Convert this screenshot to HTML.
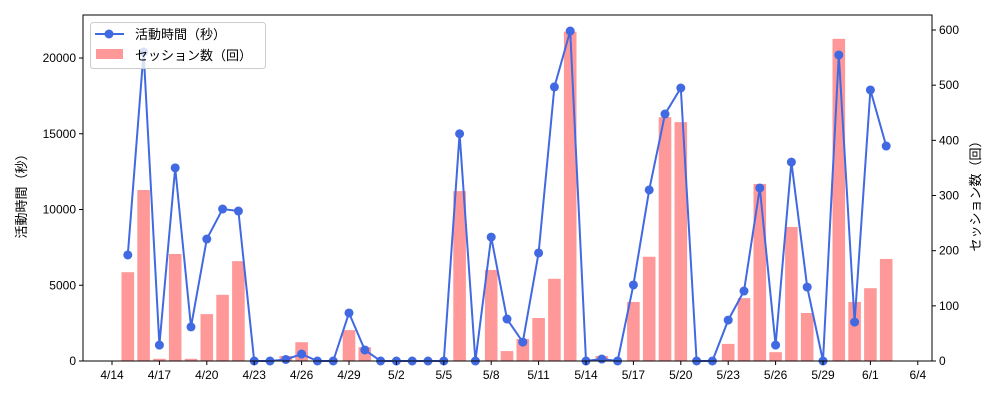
<!DOCTYPE html>
<html><head><meta charset="utf-8"><style>
body{margin:0;background:#fff;width:1000px;height:400px;overflow:hidden}
svg text{font-family:"Liberation Sans","Noto Sans CJK JP",sans-serif;font-size:12px;fill:#000}
</style></head><body>
<svg id="c" width="1000" height="400" xmlns="http://www.w3.org/2000/svg"></svg>
<script>
const dates=["4/15","4/16","4/17","4/18","4/19","4/20","4/21","4/22","4/23","4/24","4/25","4/26","4/27","4/28","4/29","4/30","5/1","5/2","5/3","5/4","5/5","5/6","5/7","5/8","5/9","5/10","5/11","5/12","5/13","5/14","5/15","5/16","5/17","5/18","5/19","5/20","5/21","5/22","5/23","5/24","5/25","5/26","5/27","5/28","5/29","5/30","5/31","6/1","6/2"];
const activeSeconds=[7000,20400,1050,12750,2250,8050,10030,9900,0,0,100,460,0,0,3170,730,0,0,0,0,0,15000,0,8180,2770,1250,7130,18090,21780,0,130,0,5020,11290,16300,18020,0,0,2700,4620,11420,1050,13130,4880,0,20200,2570,17890,14190];
const sessions=[161,310,4,194,4,85,120,181,0,0,9,34,0,0,56,25,0,0,0,0,0,308,0,165,18,40,78,149,597,0,9,0,107,189,442,433,0,0,31,114,321,16,243,87,0,584,107,132,185];
const xTicks=["4/14","4/17","4/20","4/23","4/26","4/29","5/2","5/5","5/8","5/11","5/14","5/17","5/20","5/23","5/26","5/29","6/1","6/4"];
const leftTicks=[0,5000,10000,15000,20000];
const rightTicks=[0,100,200,300,400,500,600];

const L=83,R=932,T=15,B=361;
const x=i=>112+15.8*i; // i = days since 4/14
const yL=v=>B-v*303/20000;
const yR=v=>B-v*331/600;
const svg=document.getElementById('c');
const NS="http://www.w3.org/2000/svg";
function mk(tag,attrs,parent){const e=document.createElementNS(NS,tag);for(const k in attrs)e.setAttribute(k,attrs[k]);(parent||svg).appendChild(e);return e;}

// bars
sessions.forEach((v,k)=>{
  const b=mk('rect',{x:x(k+1)-6.3,y:yR(v),width:12.6,height:B-yR(v),fill:'#ff9999'});
  
  
});
// line
const pts=activeSeconds.map((v,k)=>x(k+1)+','+yL(v)).join(' ');
const ln=mk('polyline',{points:pts,fill:'none',stroke:'#4169e1','stroke-width':2});


activeSeconds.forEach((v,k)=>{
  const c=mk('circle',{cx:x(k+1),cy:yL(v),r:4.5,fill:'#4169e1'});
  
  
});
// frame
const fr=mk('rect',{x:L,y:T,width:R-L,height:B-T,fill:'none',stroke:'#000','stroke-width':1});


// x ticks
xTicks.forEach((t,k)=>{
  const xx=x(k*3);
  mk('line',{x1:xx,x2:xx,y1:B,y2:B+4,stroke:'#000'});
  const tx=mk('text',{x:xx,y:B+18,'text-anchor':'middle'});tx.textContent=t;
  
  
});
leftTicks.forEach(v=>{
  const yy=yL(v);
  mk('line',{x1:L-4,x2:L,y1:yy,y2:yy,stroke:'#000'});
  const tx=mk('text',{x:L-7,y:yy+4,'text-anchor':'end'});tx.textContent=v;
  
  
});
rightTicks.forEach(v=>{
  const yy=yR(v);
  mk('line',{x1:R,x2:R+4,y1:yy,y2:yy,stroke:'#000'});
  const tx=mk('text',{x:R+7,y:yy+4,'text-anchor':'start'});tx.textContent=v;
  
  
});
</script>
<svg width="1000" height="400" style="position:absolute;left:0;top:0" xmlns="http://www.w3.org/2000/svg">
<text x="26" y="193" transform="rotate(-90 26 193)" text-anchor="middle" style="font-size:13px">活動時間（秒）</text>
<text x="980" y="193" transform="rotate(-90 980 193)" text-anchor="middle" style="font-size:13px">セッション数（回）</text>
<g>
<rect x="90.5" y="22.5" width="175" height="46" rx="3" fill="#fff" fill-opacity="0.8" stroke="#ccc"/>
<line x1="95" y1="34" x2="124" y2="34" stroke="#4169e1" stroke-width="2"/>
<circle cx="109" cy="34" r="4.5" fill="#4169e1"/>
<text x="135" y="39" style="font-size:13px">活動時間（秒）</text>
<rect x="96" y="49" width="27" height="10" fill="#ff9999"/>
<text x="135" y="60" style="font-size:13px">セッション数（回）</text>
</g>
</svg>
</body></html>
